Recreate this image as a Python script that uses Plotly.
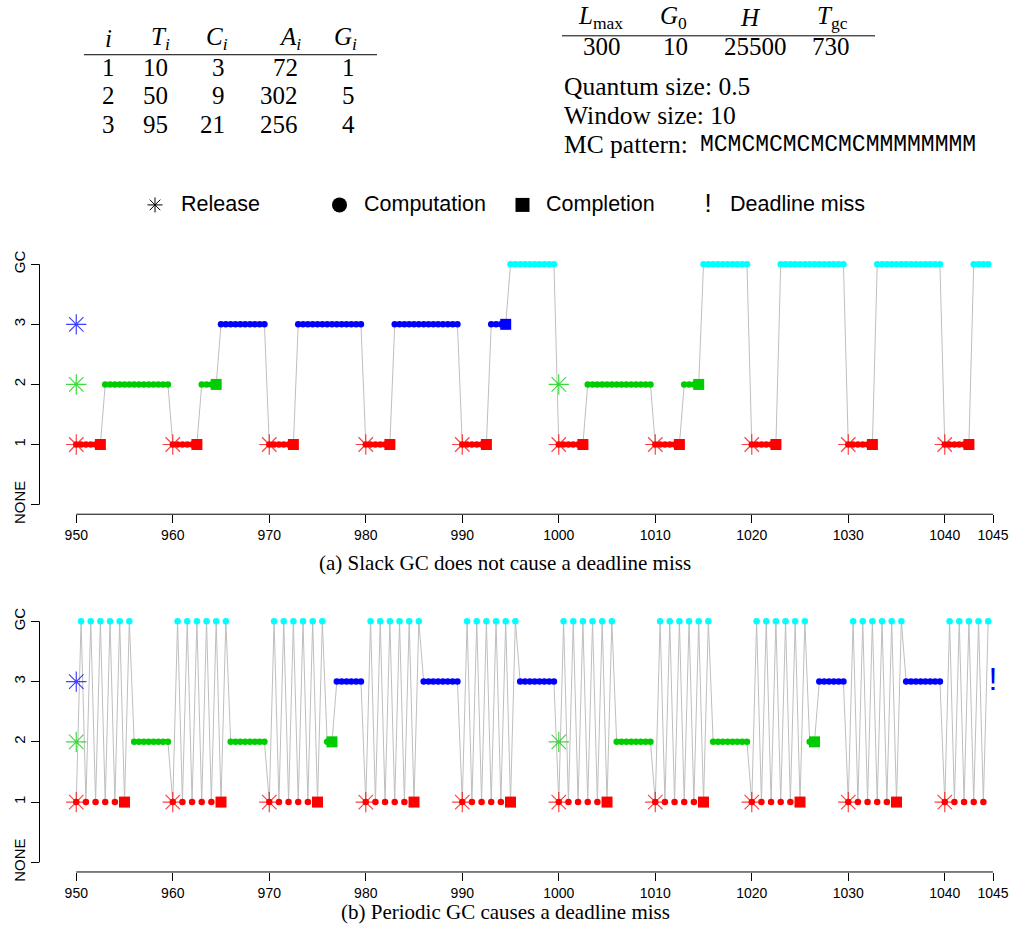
import plotly.graph_objects as go

W, H = 1013, 934
H_EFF = 925  # effective rendered height used for pixel -> paper conversion

# ---------------- data ----------------
TASK_IDS = ["1", "2", "3"]
TASK_T = [10, 50, 95]
TASK_C = [3, 9, 21]
TASK_A = [72, 302, 256]
TASK_G = [1, 5, 4]

PARAM_HEADERS = ["<i>L</i><sub>max</sub>", "<i>G</i><sub>0</sub>", "<i>H</i>", "<i>T</i><sub>gc</sub>"]
PARAM_VALUES = [300, 10, 25500, 730]
QUANTUM = 0.5
WINDOW = 10
MC_PATTERN = "MCMCMCMCMCMCMMMMMMMM"

T_START = 950
X_TICKS = [950, 960, 970, 980, 990, 1000, 1010, 1020, 1030, 1040, 1045]
Y_TICKS = [0, 1, 2, 3, 4]
Y_LABELS = ["NONE", "1", "2", "3", "GC"]

# schedule: one symbol per quantum from t=950 (task id, G = garbage collector)
SCHED_A = [
    "11111122222222222222",
    "11111122223333333333",
    "11111133333333333333",
    "11111133333333333333",
    "1111113333GGGGGGGGGG",
    "11111122222222222222",
    "1111112222GGGGGGGGGG",
    "111111GGGGGGGGGGGGGG",
    "111111GGGGGGGGGGGGGG",
    "111111GGGG",
]
SCHED_B = [
    "1G1G1G1G1G1G22222222",
    "1G1G1G1G1G1G22222222",
    "1G1G1G1G1G1G22333333",
    "1G1G1G1G1G1G33333333",
    "1G1G1G1G1G1G33333333",
    "1G1G1G1G1G1G22222222",
    "1G1G1G1G1G1G22222222",
    "1G1G1G1G1G1G22333333",
    "1G1G1G1G1G1G33333333",
    "1G1G1G1G1G",
]

RELEASE_1 = [950, 960, 970, 980, 990, 1000, 1010, 1020, 1030, 1040]
RELEASE_2 = [950, 1000]
RELEASE_3 = [950]

COMPLETE_A_1 = [952.5, 962.5, 972.5, 982.5, 992.5, 1002.5, 1012.5, 1022.5, 1032.5, 1042.5]
COMPLETE_A_2 = [964.5, 1014.5]
COMPLETE_A_3 = [994.5]
MISS_A_3 = []

COMPLETE_B_1 = [955, 965, 975, 985, 995, 1005, 1015, 1025, 1035]
COMPLETE_B_2 = [976.5, 1026.5]
COMPLETE_B_3 = []
MISS_B_3 = [1045]

# ---------------- style ----------------
COLORS = {"1": "#FF0000", "2": "#00CD00", "3": "#0000FF", "G": "#00FFFF"}
STAR_COLORS = {"1": "rgba(255,0,0,0.75)", "2": "rgba(0,205,0,0.75)", "3": "rgba(0,0,255,0.75)"}
LEVEL = {"1": 1, "2": 2, "3": 3, "G": 4}
SANS = "Liberation Sans"
SERIF = "Liberation Serif"
MONO = "Liberation Mono"


def px(x):
    return x / W


def py(y):
    return 1 - y / H_EFF


fig = go.Figure()


def add_panel(sched, completes, misses, xa, ya):
    seq = "".join(sched)
    xs = [T_START + k * QUANTUM for k in range(len(seq))]
    ys = [LEVEL[s] for s in seq]
    fig.add_trace(go.Scatter(x=xs, y=ys, mode="lines", line=dict(color="#BEBEBE", width=1),
                             xaxis=xa, yaxis=ya, showlegend=False, hoverinfo="skip"))
    for tid, rel in zip(TASK_IDS, [RELEASE_1, RELEASE_2, RELEASE_3]):
        fig.add_trace(go.Scatter(x=rel, y=[LEVEL[tid]] * len(rel), mode="markers",
                                 marker=dict(symbol="asterisk-open", size=17, color=STAR_COLORS[tid],
                                             line=dict(color=STAR_COLORS[tid], width=1.2)),
                                 xaxis=xa, yaxis=ya, showlegend=False, cliponaxis=False))
    for sym in ["1", "2", "3", "G"]:
        px_ = [x for x, s in zip(xs, seq) if s == sym]
        fig.add_trace(go.Scatter(x=px_, y=[LEVEL[sym]] * len(px_), mode="markers",
                                 marker=dict(symbol="circle", size=6.5, color=COLORS[sym], line=dict(width=0)),
                                 xaxis=xa, yaxis=ya, showlegend=False, cliponaxis=False))
    for tid, comp in zip(TASK_IDS, completes):
        fig.add_trace(go.Scatter(x=comp, y=[LEVEL[tid]] * len(comp), mode="markers",
                                 marker=dict(symbol="square", size=11, color=COLORS[tid], line=dict(width=0)),
                                 xaxis=xa, yaxis=ya, showlegend=False, cliponaxis=False))
    for tid, miss in zip(TASK_IDS, misses):
        if miss:
            fig.add_trace(go.Scatter(x=miss, y=[LEVEL[tid]] * len(miss), mode="text", text=["!"] * len(miss),
                                     textposition="middle center",
                                     textfont=dict(family=SANS, size=32, color=COLORS[tid]),
                                     xaxis=xa, yaxis=ya, showlegend=False, cliponaxis=False))


add_panel(SCHED_A, [COMPLETE_A_1, COMPLETE_A_2, COMPLETE_A_3], [[], [], MISS_A_3], "x", "y")
add_panel(SCHED_B, [COMPLETE_B_1, COMPLETE_B_2, COMPLETE_B_3], [[], [], MISS_B_3], "x2", "y2")

# legend drawn in a pixel overlay axis
fig.add_trace(go.Scatter(x=[155], y=[202], mode="markers",
                         marker=dict(symbol="asterisk-open", size=12.5, color="black",
                                     line=dict(color="black", width=1)),
                         xaxis="x3", yaxis="y3", showlegend=False))
fig.add_trace(go.Scatter(x=[339.5], y=[202], mode="markers",
                         marker=dict(symbol="circle", size=15, color="black"),
                         xaxis="x3", yaxis="y3", showlegend=False))
fig.add_trace(go.Scatter(x=[522.5], y=[202], mode="markers",
                         marker=dict(symbol="square", size=14, color="black"),
                         xaxis="x3", yaxis="y3", showlegend=False))
fig.add_trace(go.Scatter(x=[708], y=[203], mode="text", text=["!"],
                         textfont=dict(family=SANS, size=26, color="black"),
                         xaxis="x3", yaxis="y3", showlegend=False))

ann = []
for txt, x in [("Release", 179), ("Computation", 362), ("Completion", 544), ("Deadline miss", 728)]:
    ann.append(dict(text=txt, x=px(x), y=py(201), xref="paper", yref="paper", xanchor="left", yanchor="middle",
                    showarrow=False, font=dict(family=SANS, size=21.5, color="black")))

# left table
TF = 25
heads = ["<i>i</i>", "<i>T</i><sub><i>i</i></sub>", "<i>C</i><sub><i>i</i></sub>",
         "<i>A</i><sub><i>i</i></sub>", "<i>G</i><sub><i>i</i></sub>"]
col_x = [108, 172, 230, 303, 359]
for h, x in zip(heads, col_x):
    ann.append(dict(text=h, x=px(x), y=py(35), xref="paper", yref="paper",
                    xanchor="center" if x == 108 else "right", yanchor="middle",
                    showarrow=False, font=dict(family=SERIF, size=TF, color="black")))
val_x = [108, 170, 227, 300, 357]
row_y = [64, 92.5, 121]
for r, yy in enumerate(row_y):
    vals = [TASK_IDS[r], TASK_T[r], TASK_C[r], TASK_A[r], TASK_G[r]]
    for v, x in zip(vals, val_x):
        ann.append(dict(text=str(v), x=px(x), y=py(yy), xref="paper", yref="paper",
                        xanchor="center" if x == 108 else "right", yanchor="middle",
                        showarrow=False, font=dict(family=SERIF, size=TF, color="black")))

# right table
hx = [600, 673, 750, 832]
vx = [602, 675, 755, 831]
for h, x in zip(PARAM_HEADERS, hx):
    ann.append(dict(text=h, x=px(x), y=py(14), xref="paper", yref="paper", xanchor="center", yanchor="middle",
                    showarrow=False, font=dict(family=SERIF, size=TF, color="black")))
for v, x in zip(PARAM_VALUES, vx):
    ann.append(dict(text=str(v), x=px(x), y=py(42.5), xref="paper", yref="paper", xanchor="center",
                    yanchor="middle", showarrow=False, font=dict(family=SERIF, size=TF, color="black")))

ann.append(dict(text=f"Quantum size: {QUANTUM}", x=px(562), y=py(83), xref="paper", yref="paper",
                xanchor="left", yanchor="middle", showarrow=False, font=dict(family=SERIF, size=25.5, color="black")))
ann.append(dict(text=f"Window size: {WINDOW}", x=px(562), y=py(112), xref="paper", yref="paper",
                xanchor="left", yanchor="middle", showarrow=False, font=dict(family=SERIF, size=25.5, color="black")))
ann.append(dict(text="MC pattern:", x=px(562), y=py(141), xref="paper", yref="paper",
                xanchor="left", yanchor="middle", showarrow=False, font=dict(family=SERIF, size=25.5, color="black")))
ann.append(dict(text=MC_PATTERN, x=px(698), y=py(142), xref="paper", yref="paper",
                xanchor="left", yanchor="middle", showarrow=False, font=dict(family=MONO, size=23, color="black")))

# captions
ann.append(dict(text="(a) Slack GC does not cause a deadline miss", x=px(505), y=py(562), xref="paper", yref="paper",
                xanchor="center", yanchor="middle", showarrow=False, font=dict(family=SERIF, size=21, color="black")))
ann.append(dict(text="(b) Periodic GC causes a deadline miss", x=px(505), y=py(913), xref="paper", yref="paper",
                xanchor="center", yanchor="middle", showarrow=False, font=dict(family=SERIF, size=21, color="black")))

shapes = [
    dict(type="line", xref="paper", yref="paper", x0=px(84), x1=px(377), y0=py(51), y1=py(51),
         line=dict(color="black", width=1)),
    dict(type="line", xref="paper", yref="paper", x0=px(562), x1=px(875), y0=py(32), y1=py(32),
         line=dict(color="black", width=1)),
]
for xa, ya in [("x", "y"), ("x2", "y2")]:
    shapes.append(dict(type="line", xref=xa, yref=ya + " domain", x0=950, x1=1045, y0=0, y1=0,
                       line=dict(color="black", width=1)))
    shapes.append(dict(type="line", xref=xa + " domain", yref=ya, x0=0, x1=0, y0=0, y1=4,
                       line=dict(color="black", width=1)))

xdom = [px(39.5), 1.0]
xax = dict(domain=xdom, range=[946.19, 1047.07], tickmode="array", tickvals=X_TICKS, ticks="outside",
           ticklen=8, tickwidth=1, tickcolor="black", showgrid=False, zeroline=False, showline=False,
           tickfont=dict(family=SANS, size=14, color="black"), fixedrange=True)
yax = dict(range=[-0.16, 4.16], tickmode="array", tickvals=Y_TICKS, ticktext=Y_LABELS, ticks="outside",
           ticklen=8, tickwidth=1, tickcolor="black", showgrid=False, zeroline=False, showline=False,
           tickangle=-90, tickfont=dict(family=SANS, size=15, color="black"), fixedrange=True)

fig.update_layout(
    width=W, height=H, margin=dict(l=0, r=0, t=0, b=0),
    paper_bgcolor="white", plot_bgcolor="rgba(0,0,0,0)", showlegend=False,
    xaxis=dict(xax, anchor="y"),
    yaxis=dict(yax, domain=[py(513), py(252)], anchor="x"),
    xaxis2=dict(xax, anchor="y2"),
    yaxis2=dict(yax, domain=[py(872.7), py(611)], anchor="x2"),
    xaxis3=dict(domain=[0, 1], range=[0, W], visible=False, anchor="y3", fixedrange=True),
    yaxis3=dict(domain=[0, 1], range=[H_EFF, 0], visible=False, anchor="x3", fixedrange=True),
    annotations=ann, shapes=shapes,
)

fig.write_html("out.html")
